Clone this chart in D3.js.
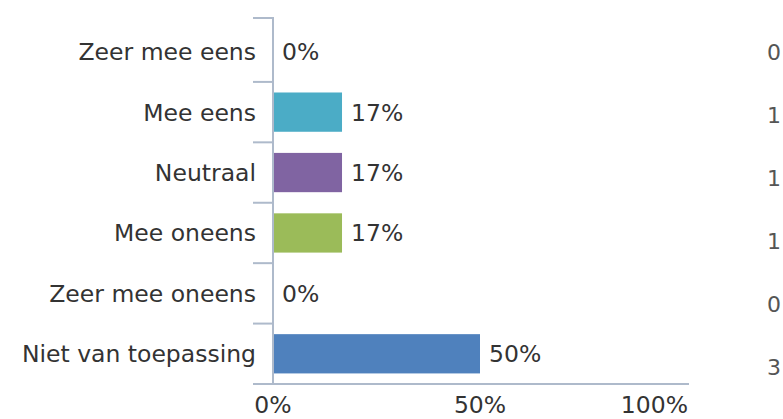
<!DOCTYPE html>
<html>
<head>
<meta charset="utf-8">
<script src="https://cdn.jsdelivr.net/npm/d3@7"></script>
<style>
html,body{margin:0;padding:0;background:#fff;}
svg{display:block;}
text{font-family:"DejaVu Sans",Verdana,sans-serif;}
</style>
</head>
<body>
<svg id="chart" width="783" height="419"></svg>
<script>
const categories = ["Zeer mee eens","Mee eens","Neutraal","Mee oneens","Zeer mee oneens","Niet van toepassing"];
const percentages = [0, 16.67, 16.67, 16.67, 0, 50];
const valueLabels = ["0%","17%","17%","17%","0%","50%"];
const counts = [0, 1, 1, 1, 0, 3];
const barColors = ["#4BACC6","#4BACC6","#8064A2","#9BBB59","#4BACC6","#4F81BD"];
const xTicks = [0, 50, 100];
const xTickLabels = ["0%","50%","100%"];

const svg = d3.select("#chart");
const axisColor = "#AEBACB";
const textColor = "#333333";
const fs = 23.5;

const x = d3.scaleLinear().domain([0,100]).range([273,687]);
const y = d3.scaleBand().domain(categories).range([21.5,384]).paddingInner(0.35).paddingOuter(0.175);
const step = y.step();

// band boundaries
const boundaries = categories.map((c,i)=> 21.5 + i*step).concat([384]);

// bars
svg.append("g").selectAll("rect").data(categories).join("rect")
  .attr("x", x(0)+1)
  .attr("y", c => y(c))
  .attr("width", (c,i)=> Math.max(0, x(percentages[i]) - x(0) - 1))
  .attr("height", y.bandwidth())
  .attr("fill", (c,i)=> barColors[i])
  .attr("opacity", (c,i)=> percentages[i] > 0 ? 1 : 0);

// y axis line
svg.append("line").attr("x1",x(0)).attr("x2",x(0)).attr("y1",17).attr("y2",385)
  .attr("stroke",axisColor).attr("stroke-width",2);
// top tick
svg.append("line").attr("x1",253).attr("x2",x(0)).attr("y1",18).attr("y2",18)
  .attr("stroke",axisColor).attr("stroke-width",2);
// boundary ticks
svg.append("g").selectAll("line").data(boundaries.slice(1,6)).join("line")
  .attr("x1",253).attr("x2",x(0)).attr("y1",d=>d).attr("y2",d=>d)
  .attr("stroke",axisColor).attr("stroke-width",2);
// x axis line
svg.append("line").attr("x1",253).attr("x2",689).attr("y1",384).attr("y2",384)
  .attr("stroke",axisColor).attr("stroke-width",2);

// category labels
svg.append("g").selectAll("text").data(categories).join("text")
  .attr("x",256).attr("y", c => y(c) + y.bandwidth()/2)
  .attr("dy","0.36em").attr("text-anchor","end")
  .attr("font-size",fs).attr("fill",textColor).text(c=>c);

// value labels
svg.append("g").selectAll("text").data(categories).join("text")
  .attr("x",(c,i)=> x(percentages[i]) + 9)
  .attr("y", c => y(c) + y.bandwidth()/2)
  .attr("dy","0.36em")
  .attr("font-size",fs).attr("fill",textColor).text((c,i)=>valueLabels[i]);

// x tick labels
svg.append("g").selectAll("text").data(xTicks).join("text")
  .attr("x", d => d===100 ? x(d)+1 : x(d))
  .attr("y",413)
  .attr("text-anchor", d => d===100 ? "end" : "middle")
  .attr("font-size",fs).attr("fill",textColor).text((d,i)=>xTickLabels[i]);

// count column
const yc = d3.scaleLinear().domain([0,5]).range([52,367]);
svg.append("g").selectAll("text").data(counts).join("text")
  .attr("x",767).attr("y",(d,i)=>yc(i)).attr("dy","0.36em")
  .attr("font-size",fs-1.5).attr("fill","#555555").text(d=>d);
</script>
</body>
</html>
